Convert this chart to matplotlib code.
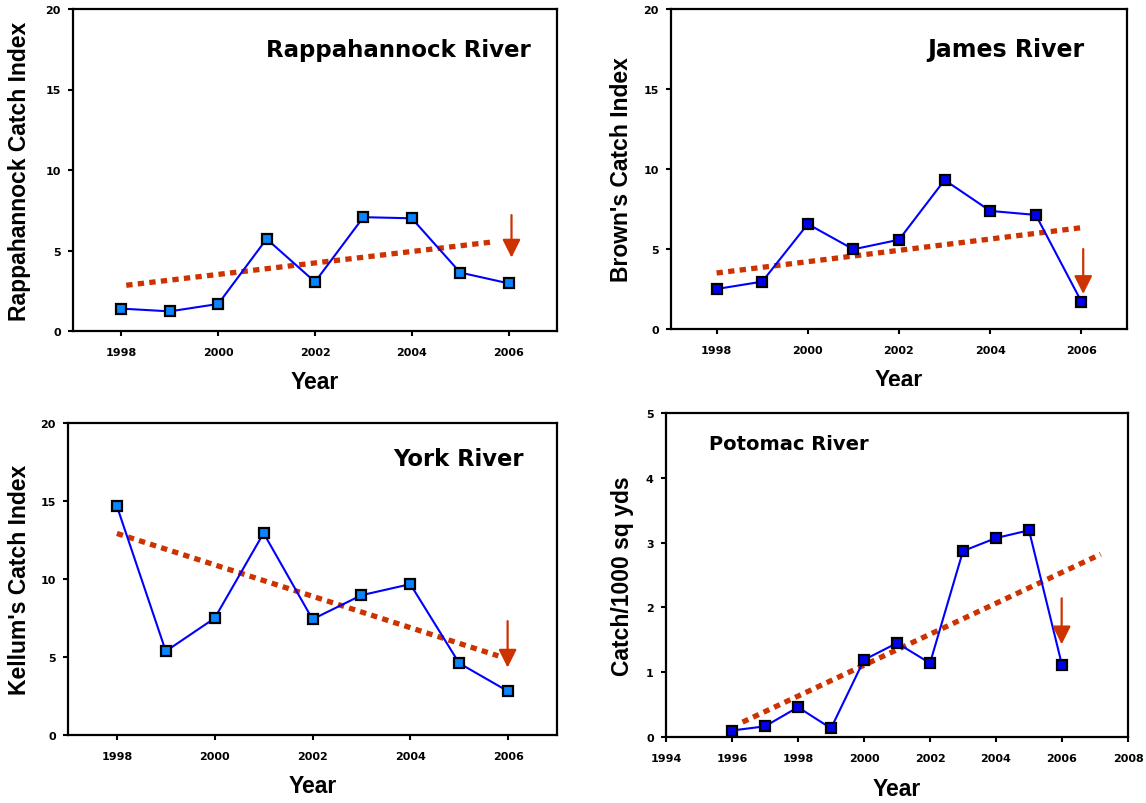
import matplotlib
matplotlib.use("Agg")
import matplotlib.pyplot as plt
from matplotlib.transforms import Bbox

plt.rcParams['font.family'] = ['Liberation Sans', 'DejaVu Sans']
plt.rcParams['font.weight'] = 'bold'

W, H = 1146, 804
DPI = 100

# ---------------- data ----------------
years_98 = [1998, 1999, 2000, 2001, 2002, 2003, 2004, 2005, 2006]
rapp_vals = [1.39, 1.22, 1.68, 5.72, 3.05, 7.07, 7.0, 3.63, 2.96]
james_vals = [2.5, 2.96, 6.56, 4.98, 5.58, 9.31, 7.38, 7.13, 1.71]
york_vals = [14.67, 5.37, 7.49, 12.94, 7.42, 8.96, 9.67, 4.6, 2.8]
years_96 = [1996, 1997, 1998, 1999, 2000, 2001, 2002, 2003, 2004, 2005, 2006]
potomac_vals = [0.10, 0.165, 0.46, 0.134, 1.19, 1.45, 1.14, 2.87, 3.07, 3.19, 1.11]

rapp_trend_x, rapp_trend_y = [1998.1, 2005.72], [2.84, 5.55]
james_trend_x, james_trend_y = [1998.0, 2006.05], [3.5, 6.35]
york_trend_x, york_trend_y = [1998.0, 2005.8], [12.92, 5.07]
potomac_trend_x, potomac_trend_y = [1996.32, 2007.17], [0.23, 2.82]

rapp_arrow = (2006.06, 7.2, 4.56)
james_arrow = (2006.04, 5.0, 2.19)
york_arrow = (2005.99, 7.3, 4.32)
potomac_arrow = (2005.99, 2.14, 1.43)

titles = ["Rappahannock River", "James River", "York River", "Potomac River"]
ylabels = ["Rappahannock Catch Index", "Brown's Catch Index",
           "Kellum's Catch Index", "Catch/1000 sq yds"]
xlabel = "Year"

LIGHT = '#0A84FF'
DARK = '#0000F0'
LINE = '#0000FF'
TREND = '#CC3300'
WIDE_FONT = ['DejaVu Sans']

fig = plt.figure(figsize=(W / DPI, H / DPI), dpi=DPI)


def add_ax(l, r, t, b):
    return fig.add_axes([l / W, 1 - b / H, (r - l) / W, (b - t) / H])


def ftext(x, y, s, **kw):
    return fig.text(x / W, 1 - y / H, s, **kw)


panels = [
    dict(box=(73, 557, 10, 332), x=years_98, y=rapp_vals, fill=LIGHT,
         tx=rapp_trend_x, ty=rapp_trend_y, arrow=rapp_arrow,
         xlim=(1997, 2007), xticks=[1998, 2000, 2002, 2004, 2006],
         ylim=(0, 20), yticks=[0, 5, 10, 15, 20],
         title=titles[0], tpos=(531, 57, 'right'), tsize=16.5,
         ylab=ylabels[0], ylx=20, xly=383),
    dict(box=(671, 1127, 10, 330), x=years_98, y=james_vals, fill=DARK,
         tx=james_trend_x, ty=james_trend_y, arrow=james_arrow,
         xlim=(1997, 2007), xticks=[1998, 2000, 2002, 2004, 2006],
         ylim=(0, 20), yticks=[0, 5, 10, 15, 20],
         title=titles[1], tpos=(1084, 57, 'right'), tsize=17,
         ylab=ylabels[1], ylx=622, xly=381, clip=387),
    dict(box=(68, 557, 424, 736), x=years_98, y=york_vals, fill=LIGHT,
         tx=york_trend_x, ty=york_trend_y, arrow=york_arrow,
         xlim=(1997, 2007), xticks=[1998, 2000, 2002, 2004, 2006],
         ylim=(0, 20), yticks=[0, 5, 10, 15, 20],
         title=titles[2], tpos=(524, 466, 'right'), tsize=16.3,
         ylab=ylabels[2], ylx=20, xly=787),
    dict(box=(666, 1128, 414, 738), x=years_96, y=potomac_vals, fill=DARK,
         tx=potomac_trend_x, ty=potomac_trend_y, arrow=potomac_arrow,
         xlim=(1994, 2008), xticks=[1994, 1996, 1998, 2000, 2002, 2004, 2006, 2008],
         ylim=(0, 5), yticks=[0, 1, 2, 3, 4, 5],
         title=titles[3], tpos=(709, 450, 'left'), tsize=14,
         ylab=ylabels[3], ylx=622, xly=790),
]

for p in panels:
    l, r, t, b = p['box']
    ax = add_ax(l, r, t, b)
    ax.set_xlim(*p['xlim'])
    ax.set_ylim(*p['ylim'])
    ax.set_xticks(p['xticks'])
    ax.set_yticks(p['yticks'])
    ax.tick_params(direction='out', length=3.8, width=1.5, labelsize=8)
    ax.tick_params(axis='x', pad=7.5)
    ax.tick_params(axis='y', pad=5)
    for lab in ax.get_xticklabels() + ax.get_yticklabels():
        lab.set_fontweight('bold')
        lab.set_family(WIDE_FONT)
    for sp in ax.spines.values():
        sp.set_linewidth(1.6)

    # trend line
    ax.plot(p['tx'], p['ty'], color=TREND, lw=3.8, dashes=(1.2, 1.0),
            solid_capstyle='butt', dash_capstyle='butt', zorder=2)
    # data line
    ax.plot(p['x'], p['y'], color=LINE, lw=1.5, marker='s', ms=6.5,
            mfc=p['fill'], mec='black', mew=1.6, zorder=3)
    # arrow
    axx, y0, y1 = p['arrow']
    ax.annotate('', xy=(axx, y1), xytext=(axx, y0),
                arrowprops=dict(arrowstyle='-|>,head_length=1.1,head_width=0.55',
                                color=TREND, lw=1.6, shrinkA=0, shrinkB=0),
                zorder=4)

    tx, ty, ha = p['tpos']
    ftext(tx, ty, p['title'], ha=ha, va='baseline', fontsize=p['tsize'],
          fontweight='bold', family=WIDE_FONT)
    ftext(p['ylx'], (t + b) / 2, p['ylab'], rotation=90, ha='center',
          va='center', fontsize=16.5, fontweight='bold')
    xt = ftext((l + r) / 2, p['xly'], xlabel, ha='center', va='center',
               fontsize=16.5, fontweight='bold')
    if 'clip' in p:
        xt.set_clip_box(Bbox([[l - 50, H - p['clip']], [r + 50, H]]))
        xt.set_clip_on(True)

fig.savefig('out.png', dpi=DPI)
